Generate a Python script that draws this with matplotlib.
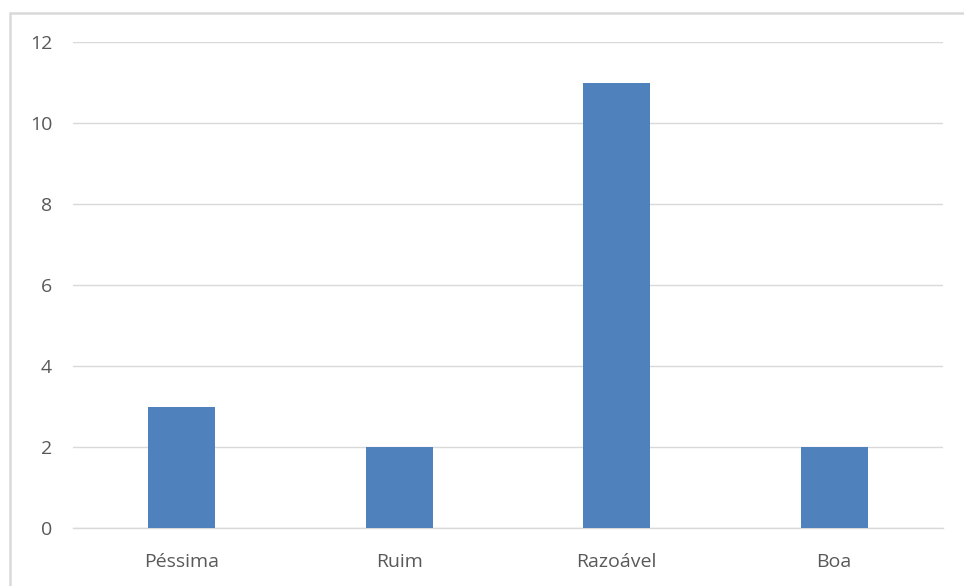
import matplotlib.pyplot as plt
from matplotlib.patches import Rectangle

# Data
categories = ['Péssima', 'Ruim', 'Razoável', 'Boa']
counts = [3, 2, 11, 2]
y_ticks = [0, 2, 4, 6, 8, 10, 12]

W, H = 964, 586
fig = plt.figure(figsize=(W / 100, H / 100), dpi=100)
fig.patch.set_facecolor('white')

# Chart border (cropped on the right and bottom in the reference)
fig.patches.append(Rectangle((10 / W, -0.1), 1.2, 1.1 - 13 / H, transform=fig.transFigure,
                             fill=False, edgecolor='#d9d9d9', linewidth=1.8))

ax = fig.add_axes([73 / W, 58 / H, 870 / W, 486 / H])
x = range(len(categories))
ax.bar(x, counts, width=0.31, color='#4f81bd', zorder=3)

ax.set_xlim(-0.5, len(categories) - 0.5)
ax.set_ylim(0, 12)
ax.set_yticks(y_ticks)
ax.set_xticks(list(x))
ax.set_xticklabels(categories)

ax.grid(axis='y', color='#d9d9d9', linewidth=1.0, zorder=0)
for s in ['top', 'right', 'left']:
    ax.spines[s].set_visible(False)
ax.spines['bottom'].set_color('#d9d9d9')
ax.spines['bottom'].set_linewidth(1.0)
ax.tick_params(axis='both', length=0, labelsize=14, labelcolor='#595959')
ax.tick_params(axis='y', pad=15)
ax.tick_params(axis='x', pad=18)
for lbl in ax.get_xticklabels() + ax.get_yticklabels():
    lbl.set_fontfamily('Open Sans')

fig.savefig('out.png', dpi=100)
